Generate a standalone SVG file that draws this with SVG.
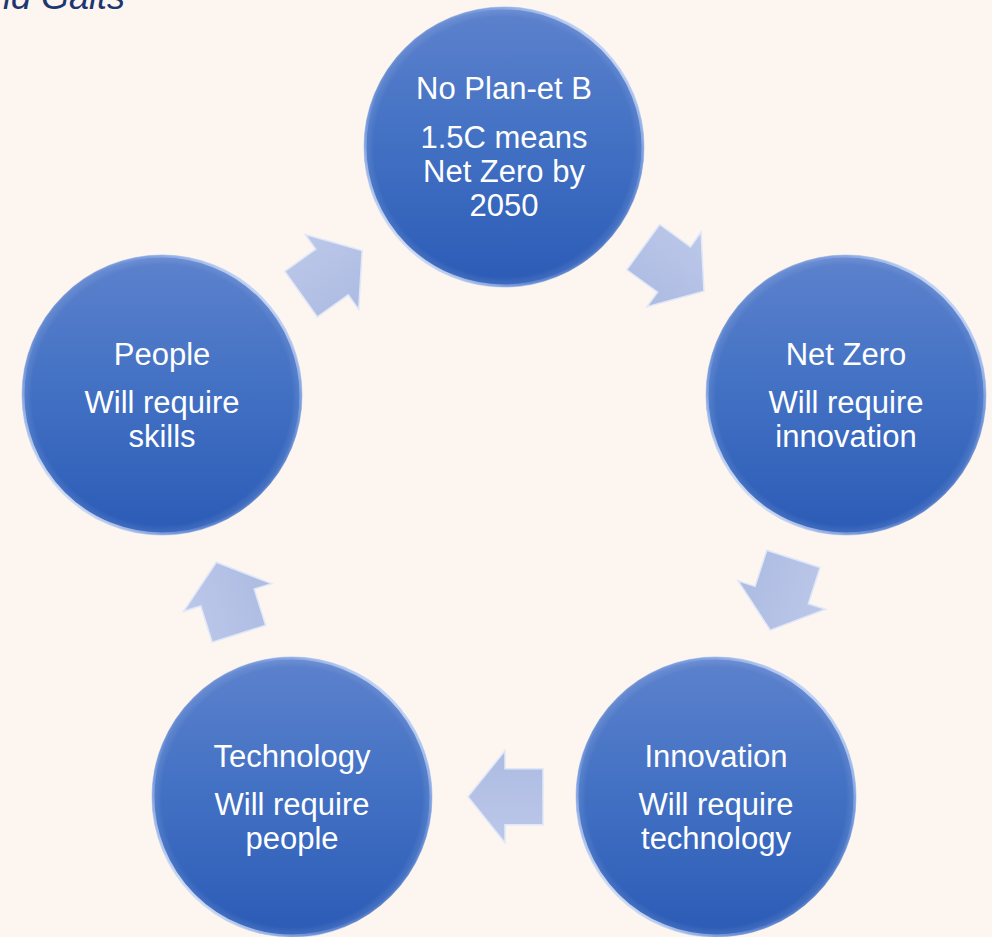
<svg xmlns="http://www.w3.org/2000/svg" width="992" height="937" viewBox="0 0 992 937">
<defs>
<style>
.lbl{font-family:"Liberation Sans",Arial,sans-serif;font-size:31px;fill:#ffffff;text-anchor:middle}
.arr{fill:url(#arrFill);stroke:#dfe7f8;stroke-width:1.5;stroke-linejoin:miter}
.ball{fill:url(#ballFill)}
.rim{fill:none;stroke:url(#rimStroke);stroke-width:3}
.shine{fill:url(#shineFill)}
</style>
<linearGradient id="ballFill" x1="0" y1="0" x2="0" y2="1">
<stop offset="0" stop-color="#5d82cd"/>
<stop offset="0.5" stop-color="#4170c3"/>
<stop offset="1" stop-color="#2b5bb6"/>
</linearGradient>
<radialGradient id="shineFill" cx="0.5" cy="0.5" r="0.5">
<stop offset="0.93" stop-color="#ffffff" stop-opacity="0"/>
<stop offset="0.98" stop-color="#cfe0ff" stop-opacity="0.12"/>
<stop offset="1" stop-color="#e8f0ff" stop-opacity="0.3"/>
</radialGradient>
<linearGradient id="rimStroke" x1="0.1" y1="0.9" x2="0.9" y2="0.1">
<stop offset="0" stop-color="#ffffff" stop-opacity="0.95"/>
<stop offset="0.25" stop-color="#7fa2e6" stop-opacity="0.5"/>
<stop offset="0.5" stop-color="#3b67bd" stop-opacity="0.1"/>
<stop offset="0.75" stop-color="#7fa2e6" stop-opacity="0.5"/>
<stop offset="1" stop-color="#e6efff" stop-opacity="0.95"/>
</linearGradient>
<linearGradient id="arrFill" x1="0" y1="0" x2="0" y2="1">
<stop offset="0" stop-color="#bcc8e9"/>
<stop offset="1" stop-color="#adbbe2"/>
</linearGradient>
<polygon id="arrow" class="arr" points="-38,-28 0,-28 0,-46 37,0 0,46 0,28 -38,28"/>
</defs>
<rect width="992" height="937" fill="#fdf5ef"/>
<text x="125" y="9" text-anchor="end" font-family="'Liberation Sans',Arial,sans-serif" font-style="italic" font-size="36" fill="#1e3670">ld Gaits</text>

<g id="connectors">
<use href="#arrow" transform="translate(332,272) rotate(-35.5)"/>
<use href="#arrow" transform="translate(674,269.5) rotate(36)"/>
<use href="#arrow" transform="translate(781.7,595) rotate(108)"/>
<use href="#arrow" transform="translate(505,796.7) rotate(180)"/>
<use href="#arrow" transform="translate(227.5,597.5) rotate(-107.5)"/>
</g>

<g id="node-planet">
<circle class="ball" cx="504" cy="147" r="140"/>
<circle class="shine" cx="504" cy="147" r="140"/>
<circle class="rim" cx="504" cy="147" r="139"/>
<text class="lbl" x="504" y="99">No Plan-et B</text>
<text class="lbl" x="504" y="148">1.5C means</text>
<text class="lbl" x="504" y="182">Net Zero by</text>
<text class="lbl" x="504" y="216">2050</text>
</g>

<g id="node-netzero">
<circle class="ball" cx="846" cy="395" r="140"/>
<circle class="shine" cx="846" cy="395" r="140"/>
<circle class="rim" cx="846" cy="395" r="139"/>
<text class="lbl" x="846" y="365">Net Zero</text>
<text class="lbl" x="846" y="413">Will require</text>
<text class="lbl" x="846" y="447">innovation</text>
</g>

<g id="node-innovation">
<circle class="ball" cx="716" cy="797" r="140"/>
<circle class="shine" cx="716" cy="797" r="140"/>
<circle class="rim" cx="716" cy="797" r="139"/>
<text class="lbl" x="716" y="767">Innovation</text>
<text class="lbl" x="716" y="815">Will require</text>
<text class="lbl" x="716" y="849">technology</text>
</g>

<g id="node-technology">
<circle class="ball" cx="292" cy="797" r="140"/>
<circle class="shine" cx="292" cy="797" r="140"/>
<circle class="rim" cx="292" cy="797" r="139"/>
<text class="lbl" x="292" y="767">Technology</text>
<text class="lbl" x="292" y="815">Will require</text>
<text class="lbl" x="292" y="849">people</text>
</g>

<g id="node-people">
<circle class="ball" cx="162" cy="395" r="140"/>
<circle class="shine" cx="162" cy="395" r="140"/>
<circle class="rim" cx="162" cy="395" r="139"/>
<text class="lbl" x="162" y="365">People</text>
<text class="lbl" x="162" y="413">Will require</text>
<text class="lbl" x="162" y="447">skills</text>
</g>
</svg>
